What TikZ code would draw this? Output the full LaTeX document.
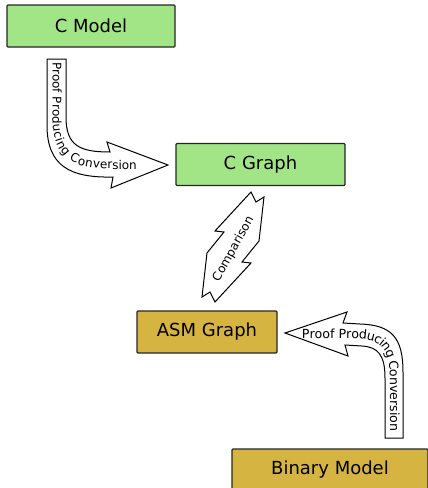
\documentclass[tikz,border=0pt]{standalone}
\usepackage{fontspec}
\setmainfont{DejaVu Sans}
\usetikzlibrary{decorations.text}
\definecolor{boxgreen}{HTML}{A1E586}
\definecolor{boxgold}{HTML}{D6B441}
\begin{document}
\begin{tikzpicture}[x=1pt, y=-1pt,
          blk/.style={draw=black!85, line width=1.2pt, rounded corners=1pt, minimum height=42pt, font=\fontsize{18}{21}\selectfont},
          cblk/.style={blk, fill=boxgreen},
          ablk/.style={blk, fill=boxgold},
          fat/.style={draw=black, fill=white, line width=1pt, line join=miter},
          along/.style 2 args={decorate, decoration={text along path, text align=left, raise=-4pt,
                        text={|\fontsize{#1}{14}\selectfont|#2}}}]
          \useasboundingbox (0,0) rectangle (428,488);
          \clip (0,0) rectangle (428,488);
          \node[cblk, minimum width=168pt] (cmodel) at (91,26) {C Model};
          \node[cblk, minimum width=169pt] (cgraph) at (260.5,164.5) {C Graph};
          \node[ablk, minimum width=140pt] (asmgraph) at (207,332) {ASM Graph};
          \node[ablk, minimum width=196pt] (binmodel) at (330,470) {Binary Model};
          \draw[fat] (47,59) -- (66,59) -- (66,117) .. controls (66,146) and (80,152) .. (110,152) -- (107,142)
                -- (168,165) -- (111,188) -- (113,177) .. controls (70,178) and (47,166) .. (47,125) -- cycle;
          \path[along={12}{Proof Producing Conversion}] (56.5,62) -- (56.5,118) .. controls (56.5,158) and (78,165) .. (112,165) -- (165,165);
          \draw[fat] (251,192) -- (256,202) -- (264,197) -- (259,241) -- (242,262) -- (251,263) -- (215,302)
                -- (210,292) -- (202,297) -- (207,253) -- (224,232) -- (215,231) -- cycle;
          \node[rotate=61, font=\fontsize{12}{14}\selectfont] (cmp) at (233.5,249) {Comparison};
          \draw[fat] (385,438) -- (403,438) -- (403,372) .. controls (403,338) and (392,325) .. (360,324) -- (343,323)
                -- (347,312) -- (285,333) -- (348,356) -- (345,345) -- (362,346) .. controls (378,347) and (385,355) .. (385,378) -- cycle;
          \path[along={12.6}{Proof Producing Conversion}] (302,334.5) -- (358,335) .. controls (388,336) and (394,352) .. (394,382) -- (394,445);
        \end{tikzpicture}
\end{document}
